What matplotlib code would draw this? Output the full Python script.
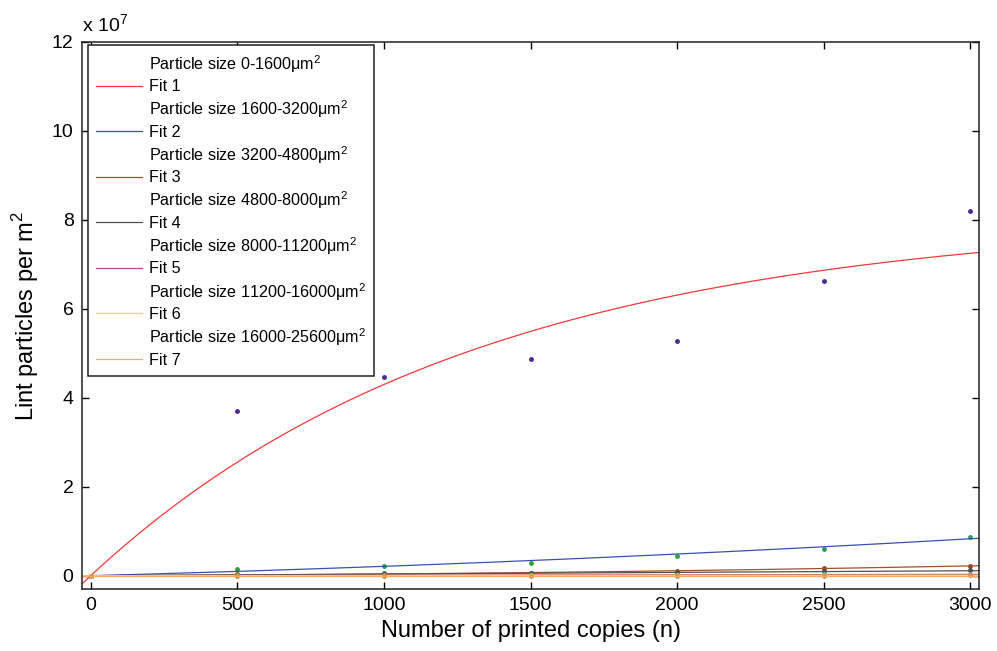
import numpy as np
import matplotlib
matplotlib.use('Agg')
import matplotlib.pyplot as plt

plt.rcParams['font.family'] = ['Liberation Sans', 'DejaVu Sans']

copies = [0, 500, 1000, 1500, 2000, 2500, 3000]
size_1 = [0.0, 3.70, 4.47, 4.87, 5.27, 6.62, 8.20]
size_2 = [0.0, 0.16, 0.22, 0.29, 0.45, 0.61, 0.86]
size_3 = [0.0, 0.03, 0.05, 0.07, 0.10, 0.18, 0.21]
size_4 = [0.0, 0.02, 0.03, 0.05, 0.08, 0.10, 0.12]
size_5 = [0.0, 0.005, 0.01, 0.015, 0.02, 0.03, 0.04]
size_6 = [0.0, 0.002, 0.004, 0.006, 0.008, 0.01, 0.012]
size_7 = [0.0, 0.0, 0.001, 0.002, 0.003, 0.004, 0.005]

size_labels = ['0-1600', '1600-3200', '3200-4800', '4800-8000',
               '8000-11200', '11200-16000', '16000-25600']

# fit coefficients: fit 1 is a*(1-exp(-b*n)), fits 2-7 are a*n + c*n^2
fit1_a, fit1_b = 8.075, 0.00076
fit_lin = [1.767e-4, 2.0e-5, 3.7e-5, 1.0e-5, 0.4e-5, 0.0]
fit_quad = [3.33e-8, 1.78e-8, 0.0, 0.0, 0.0, 0.0]

dot_colors = ['#4a2a8c', '#30a040', '#8b4a20', '#505050', '#40b0d0', '#c0c020', '#e09050']
fit_colors = ['#f03a3a', '#3a50b0', '#a0522d', '#505050', '#c040a0', '#f0e020', '#ffa860']

fig = plt.figure(figsize=(9.97, 6.51), dpi=100)
ax = fig.add_axes([0.0822, 0.0952, 0.8998, 0.8403])

n = np.linspace(-30, 3030, 400)
fits = [fit1_a * (1 - np.exp(-fit1_b * n))]
for a, c in zip(fit_lin, fit_quad):
    fits.append(a * n + c * n ** 2)

series = [size_1, size_2, size_3, size_4, size_5, size_6, size_7]
for i in range(7):
    ax.plot(copies, series[i], '.', color=dot_colors[i], markersize=5,
            label='Particle size ' + size_labels[i] + r'$\mathregular{\mu m^2}$')
    ax.plot(n, fits[i], '-', color=fit_colors[i], linewidth=0.9,
            label='Fit %d' % (i + 1))

ax.set_xlim(-30, 3030)
ax.set_ylim(-0.3, 12)
ax.set_xticks([0, 500, 1000, 1500, 2000, 2500, 3000])
ax.set_yticks([0, 2, 4, 6, 8, 10, 12])
ax.tick_params(direction='in', top=True, right=True, labelsize=14, length=5, width=1, pad=6)
for sp in ax.spines.values():
    sp.set_linewidth(1.1)
    sp.set_color('#222222')

ax.text(0.0, 1.01, r'x 10$^{\mathregular{7}}$', transform=ax.transAxes,
        fontsize=14, ha='left', va='bottom')
ax.set_xlabel('Number of printed copies (n)', fontsize=17, labelpad=4)
ax.set_ylabel(r'Lint particles per m$^{\mathregular{2}}$', fontsize=17, labelpad=8)

leg = ax.legend(loc='upper left', bbox_to_anchor=(0.0067, 0.9945), fontsize=11.6,
                frameon=True, fancybox=False, edgecolor='#222222', framealpha=1,
                borderaxespad=0, handlelength=2.85, handletextpad=0.42,
                labelspacing=0.275, borderpad=0.5)
leg.get_frame().set_linewidth(1.1)
for h in leg.legend_handles:
    h.set_marker('')

fig.savefig('out.png', dpi=100)
